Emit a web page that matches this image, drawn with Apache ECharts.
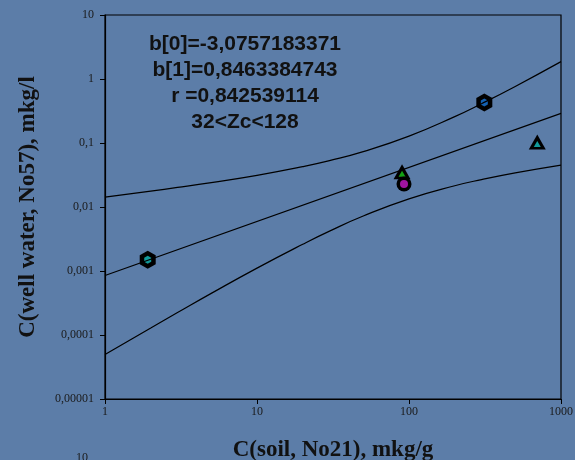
<!DOCTYPE html>
<html>
<head>
<meta charset="utf-8">
<script src="https://cdn.jsdelivr.net/npm/echarts@6/dist/echarts.min.js"></script>
<style>
  html, body { margin: 0; padding: 0; }
  #chart1 { width: 575px; height: 460px; }
</style>
</head>
<body>
<div id="chart1"></div>
<script>
// tick labels (decimal comma, as on the slide)
const xTickLabels = ['1', '10', '100', '1000'];
const yTickLabels = ['0,00001', '0,0001', '0,001', '0,01', '0,1', '1', '10'];

// measured points [soil, well water]
const tealHex = [[1.91, 0.0015]];
const blueHex = [[313, 0.43]];
const greenTri = [[90, 0.0356]];
const magentaCircle = [[92.7, 0.0229]];
const tealTri = [[698, 0.104]];

// regression line and confidence limits
const regression = [[1, 0.00085], [1000, 0.29]];
const upperLimit = [
  [1, 0.0143], [2, 0.0177], [3, 0.0202], [5, 0.0241], [10, 0.0313], [20, 0.0428],
  [30, 0.0531], [50, 0.0733], [100, 0.128], [200, 0.258], [300, 0.411],
  [500, 0.766], [1000, 1.87]
];
const lowerLimit = [
  [1, 0.0000494], [2, 0.000129], [3, 0.000224], [5, 0.000447], [10, 0.00111],
  [20, 0.00262], [30, 0.0042], [50, 0.00723], [100, 0.0134], [200, 0.0215],
  [300, 0.0268], [500, 0.0341], [1000, 0.0451]
];

const statsText = [
  'b[0]=-3,0757183371',
  'b[1]=0,8463384743',
  'r =0,842539114',
  '32<Zc<128'
];

const hexagon = 'path://M0,-10L8.66,-5L8.66,5L0,10L-8.66,5L-8.66,-5Z';

const lineSeries = (data) => ({
  type: 'line',
  data: data,
  smooth: true,
  showSymbol: false,
  silent: true,
  lineStyle: { color: '#000', width: 1.2 }
});

// each marker = black outline shape with a small coloured core on top
const pointSeries = (data, symbol, size, color, offset) => ({
  type: 'scatter',
  data: data,
  symbol: symbol,
  symbolSize: size,
  symbolOffset: offset || [0, 0],
  itemStyle: { color: color, opacity: 1 }
});

const chart1 = echarts.init(document.getElementById('chart1'));

const option = {
  backgroundColor: '#5c7da8',
  animation: false,
  grid: {
    left: 105, right: 14, top: 15, bottom: 61,
    outerBoundsMode: 'none',
    show: true, borderColor: '#000', borderWidth: 1.2
  },
  xAxis: {
    type: 'log',
    logBase: 10,
    min: 1,
    max: 1000,
    splitNumber: 3,
    name: 'C(soil, No21), mkg/g',
    nameLocation: 'middle',
    nameGap: 40,
    nameTextStyle: { fontFamily: 'Liberation Serif', fontWeight: 'bold', fontSize: 23, color: '#111' },
    axisLine: { lineStyle: { color: '#000', width: 1.2 } },
    axisTick: { show: true, length: 5, lineStyle: { color: '#000' } },
    minorTick: { show: false },
    splitLine: { show: false },
    axisLabel: {
      margin: 7,
      fontFamily: 'Liberation Serif',
      fontSize: 12,
      color: '#1a1a1a',
      formatter: (v) => xTickLabels[Math.round(Math.log10(v))]
    }
  },
  yAxis: {
    type: 'log',
    logBase: 10,
    min: 0.00001,
    max: 10,
    splitNumber: 6,
    name: 'C(well water, No57), mkg/l',
    nameLocation: 'middle',
    nameGap: 65,
    nameTextStyle: { fontFamily: 'Liberation Serif', fontWeight: 'bold', fontSize: 23, color: '#111' },
    axisLine: { lineStyle: { color: '#000', width: 1.2 } },
    axisTick: { show: true, length: 5, lineStyle: { color: '#000' } },
    splitLine: { show: false },
    axisLabel: {
      margin: 11,
      fontFamily: 'Liberation Serif',
      fontSize: 12,
      color: '#1a1a1a',
      formatter: (v) => yTickLabels[Math.round(Math.log10(v)) + 5]
    }
  },
  graphic: [
    {
      type: 'text',
      x: 245,
      y: 31,
      style: {
        text: statsText.join('\n'),
        textAlign: 'center',
        textVerticalAlign: 'top',
        fontFamily: 'Liberation Sans',
        fontWeight: 'bold',
        fontSize: 21,
        lineHeight: 26,
        fill: '#111'
      }
    },
    {
      type: 'text',
      x: 76,
      y: 452,
      style: { text: '10', fontFamily: 'Liberation Serif', fontSize: 12, fill: '#1a1a1a' }
    }
  ],
  series: [
    lineSeries(upperLimit),
    lineSeries(regression),
    lineSeries(lowerLimit),
    pointSeries(tealHex, hexagon, [16, 18], '#000'),
    pointSeries(tealHex, hexagon, [7, 8], '#129a9a'),
    pointSeries(blueHex, hexagon, [16, 18], '#000'),
    pointSeries(blueHex, hexagon, [7, 8], '#1460b0'),
    pointSeries(greenTri, 'triangle', [17, 15], '#000'),
    pointSeries(greenTri, 'triangle', [7, 6], '#14a014', [0, 2]),
    pointSeries(magentaCircle, 'circle', 15, '#000'),
    pointSeries(magentaCircle, 'circle', 8, '#a014a0'),
    pointSeries(tealTri, 'triangle', [17, 15], '#000'),
    pointSeries(tealTri, 'triangle', [7, 6], '#129a9a', [0, 2])
  ]
};

chart1.setOption(option);
</script>
</body>
</html>
